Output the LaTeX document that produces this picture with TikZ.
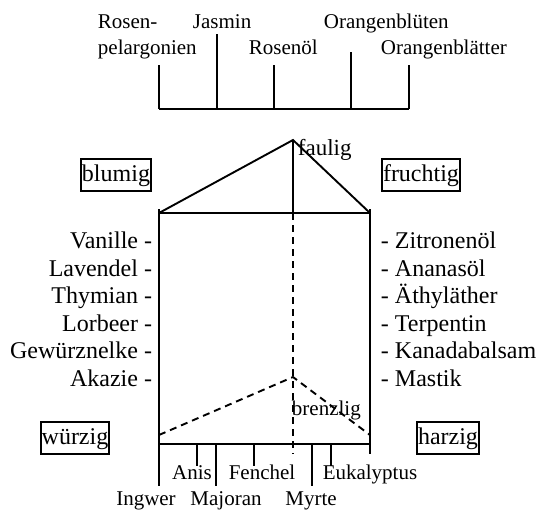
\documentclass[tikz,border=0pt]{standalone}
\usepackage{fontspec}
\setmainfont{Liberation Serif}
\begin{document}
\begin{tikzpicture}[x=0.5pt,y=-0.5pt,line width=0.95pt,
	box/.style={draw,line width=0.9pt,inner xsep=0.5pt,inner ysep=2pt,text height=9pt,text depth=3pt,font=\fontsize{12}{14}\selectfont},
	lab/.style={inner sep=0pt,font=\fontsize{12}{14}\selectfont},
	small/.style={inner sep=0pt,font=\fontsize{10.5}{12}\selectfont},
	dsh/.style={dash pattern=on 3.5pt off 2.5pt}]
	\useasboundingbox (0,0) rectangle (538,510);
	% top scale
	\draw (159,109) -- (409,109);
	\draw (159,109) -- (159,65);
	\draw (217,109) -- (217,34);
	\draw (274,109) -- (274,65);
	\draw (351,109) -- (351,52);
	\draw (409,109) -- (409,65);
	\node[small,anchor=base west] (rosen) at (97,28) {Rosen-};
	\node[small,anchor=base west] (pelargonien) at (97,54) {pelargonien};
	\node[small,anchor=base west] (jasmin) at (192,28) {Jasmin};
	\node[small,anchor=base west] (rosenoel) at (248,54) {Rosenöl};
	\node[small,anchor=base west] (bluete) at (323,28) {Orangenblüten};
	\node[small,anchor=base west] (blatt) at (380,54) {Orangenblätter};
	% prism
	\coordinate (top) at (293,140);
	\coordinate (bl) at (159,213);
	\coordinate (br) at (370,213);
	\draw (bl) -- (top) -- (br);
	\draw (bl) -- (br);
	\draw (top) -- (293,213);
	\draw[dsh] (293,213) -- (293,454);
	\draw (159,209) -- (159,486);
	\draw (370,209) -- (370,454);
	\draw (159,444) -- (370,444);
	\draw[dsh] (159,435) -- (293,377) -- (370,435);
	\node[small,font=\fontsize{11.5}{13}\selectfont,anchor=base west] (faulig) at (297,155) {faulig};
	\node[small,anchor=base west] (brenzlig) at (291,415) {brenzlig};
	% bottom scale
	\draw (197,444) -- (197,466);
	\draw (216,444) -- (216,486);
	\draw (254,444) -- (254,466);
	\draw (312,444) -- (312,486);
	\draw (331,444) -- (331,466);
	\node[small,anchor=base] (anis) at (192,479) {Anis};
	\node[small,anchor=base] (fenchel) at (262,479) {Fenchel};
	\node[small,anchor=base] (eukalyptus) at (370,479) {Eukalyptus};
	\node[small,anchor=base] (ingwer) at (146,505) {Ingwer};
	\node[small,anchor=base] (majoran) at (226,505) {Majoran};
	\node[small,anchor=base] (myrte) at (311,505) {Myrte};
	% corners
	\node[box] (blumig) at (116,175) {blumig};
	\node[box] (fruchtig) at (421,175) {fruchtig};
	\node[box] (wuerzig) at (75,438) {würzig};
	\node[box] (harzig) at (448,438) {harzig};
	% sides
	\node[lab,anchor=base east] (vanille) at (153,248) {Vanille -};
	\node[lab,anchor=base east] (lavendel) at (153,276) {Lavendel -};
	\node[lab,anchor=base east] (thymian) at (153,303) {Thymian -};
	\node[lab,anchor=base east] (lorbeer) at (153,331) {Lorbeer -};
	\node[lab,anchor=base east] (nelke) at (153,358) {Gewürznelke -};
	\node[lab,anchor=base east] (akazie) at (153,386) {Akazie -};
	\node[lab,anchor=base west] (zitrone) at (380,248) {- Zitronenöl};
	\node[lab,anchor=base west] (ananas) at (380,276) {- Ananasöl};
	\node[lab,anchor=base west] (aether) at (380,303) {- Äthyläther};
	\node[lab,anchor=base west] (terpentin) at (380,331) {- Terpentin};
	\node[lab,anchor=base west] (kanada) at (380,358) {- Kanadabalsam};
	\node[lab,anchor=base west] (mastik) at (380,386) {- Mastik};
\end{tikzpicture}
\end{document}
